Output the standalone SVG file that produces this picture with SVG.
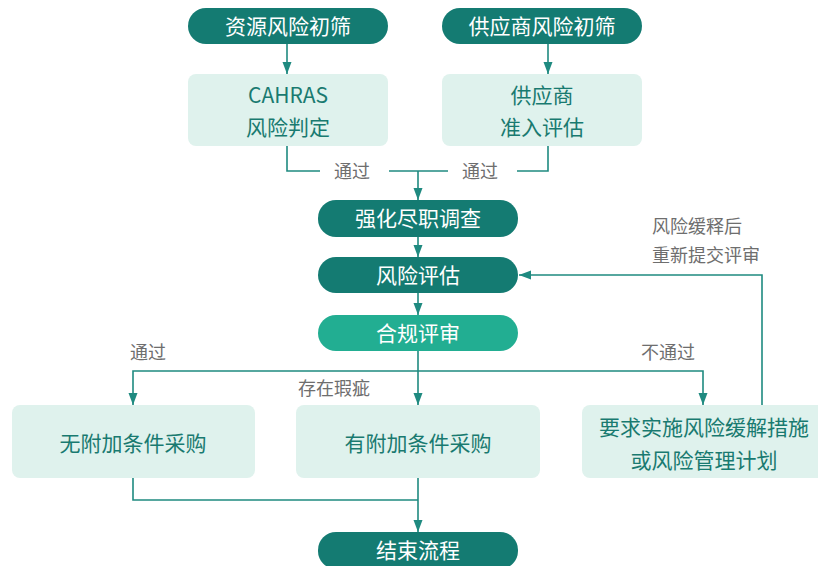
<svg xmlns="http://www.w3.org/2000/svg" width="818" height="566" viewBox="0 0 818 566">
<style>
.pill{fill:#147b72}
.pill2{fill:#22ae92}
.box{fill:#dff2ed}
.wt{fill:#ffffff;font-family:"Noto Sans CJK SC","Noto Sans",sans-serif;font-size:21px;text-anchor:middle;dominant-baseline:central}
.bt{fill:#197a70;font-family:"Noto Sans CJK SC","Noto Sans",sans-serif;font-size:21px;text-anchor:middle;dominant-baseline:central}
.lt{fill:#6e6e6e;font-family:"Noto Sans CJK SC","Noto Sans",sans-serif;font-size:18px;text-anchor:middle;dominant-baseline:central}
.lts{fill:#6e6e6e;font-family:"Noto Sans CJK SC","Noto Sans",sans-serif;font-size:18px;text-anchor:start;dominant-baseline:central}
.c{fill:none;stroke:#1f8a80;stroke-width:1.6}
</style>
<defs>
<marker id="ah" markerUnits="userSpaceOnUse" markerWidth="13" markerHeight="10" refX="12" refY="4.5" orient="auto">
<path d="M0,0 L12,4.5 L0,9 z" fill="#1f8a80"/>
</marker>
</defs>
<g id="connectors">
<path class="c" d="M287,44 V74" marker-end="url(#ah)"/>
<path class="c" d="M548,44 V74" marker-end="url(#ah)"/>
<path class="c" d="M287,146 V171 H320"/>
<path class="c" d="M389,171 H448"/>
<path class="c" d="M517,171 H548 V146"/>
<path class="c" d="M418,171 V200" marker-end="url(#ah)"/>
<path class="c" d="M418,237 V257" marker-end="url(#ah)"/>
<path class="c" d="M418,293 V315" marker-end="url(#ah)"/>
<path class="c" d="M418,351 V405" marker-end="url(#ah)"/>
<path class="c" d="M418,371 H133 V405" marker-end="url(#ah)"/>
<path class="c" d="M418,371 H703 V405" marker-end="url(#ah)"/>
<path class="c" d="M762,405 V275 H519" marker-end="url(#ah)"/>
<path class="c" d="M133,478 V500 H418"/>
<path class="c" d="M418,478 V532" marker-end="url(#ah)"/>
</g>
<g id="labels">
<text class="lt" x="352" y="169.5">通过</text>
<text class="lt" x="480" y="169.5">通过</text>
<text class="lt" x="148" y="350.5">通过</text>
<text class="lt" x="668" y="350.5">不通过</text>
<text class="lt" x="334" y="386.5">存在瑕疵</text>
<text class="lts" x="652" y="224.5">风险缓释后</text>
<text class="lts" x="652" y="253.5">重新提交评审</text>
</g>
<g id="n1"><rect class="pill" x="188" y="8" width="200" height="36" rx="18"/><text class="wt" x="288" y="24.5">资源风险初筛</text></g>
<g id="n2"><rect class="pill" x="442" y="8" width="200" height="36" rx="18"/><text class="wt" x="542" y="24.5">供应商风险初筛</text></g>
<g id="n3"><rect class="box" x="188" y="74" width="200" height="72" rx="8"/><text class="bt" x="288" y="93.5">CAHRAS</text><text class="bt" x="288" y="125.5">风险判定</text></g>
<g id="n4"><rect class="box" x="442" y="74" width="200" height="72" rx="8"/><text class="bt" x="542" y="93.5">供应商</text><text class="bt" x="542" y="125.5">准入评估</text></g>
<g id="n5"><rect class="pill" x="318" y="200" width="200" height="37" rx="18"/><text class="wt" x="418" y="216.5">强化尽职调查</text></g>
<g id="n6"><rect class="pill" x="318" y="257" width="200" height="36" rx="18"/><text class="wt" x="418" y="273.5">风险评估</text></g>
<g id="n7"><rect class="pill2" x="318" y="315" width="200" height="36" rx="18"/><text class="wt" x="418" y="331.5">合规评审</text></g>
<g id="n8"><rect class="box" x="12" y="405" width="243" height="73" rx="8"/><text class="bt" x="133" y="441.5">无附加条件采购</text></g>
<g id="n9"><rect class="box" x="296" y="405" width="244" height="73" rx="8"/><text class="bt" x="418" y="441.5">有附加条件采购</text></g>
<g id="n10"><rect class="box" x="582" y="405" width="244" height="73" rx="8"/><text class="bt" x="704" y="425.5">要求实施风险缓解措施</text><text class="bt" x="704" y="458.5">或风险管理计划</text></g>
<g id="n11"><rect class="pill" x="318" y="532" width="200" height="37" rx="18"/><text class="wt" x="418" y="548.5">结束流程</text></g>
</svg>
